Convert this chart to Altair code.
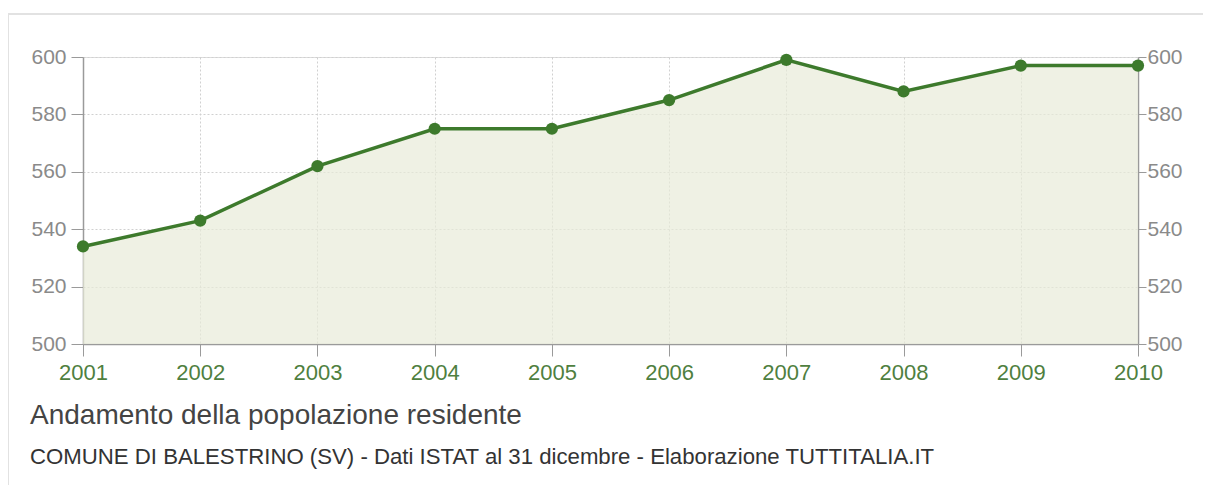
import altair as alt
import pandas as pd

years = [2001, 2002, 2003, 2004, 2005, 2006, 2007, 2008, 2009, 2010]
population = [534, 543, 562, 575, 575, 585, 599, 588, 597, 597]
y_ticks = [500, 520, 540, 560, 580, 600]

title_text = "Andamento della popolazione residente"
subtitle_text = "COMUNE DI BALESTRINO (SV) - Dati ISTAT al 31 dicembre - Elaborazione TUTTITALIA.IT"

df = pd.DataFrame({"anno": years, "popolazione": population})

FONT = "Liberation Sans"
GREEN = "#3d7a2c"

x_enc = alt.X(
    "anno:Q",
    scale=alt.Scale(domain=[2001, 2010], nice=False, zero=False),
    axis=alt.Axis(
        values=years, format="d", title=None,
        labelColor="#4f7f3f", labelFontSize=22, labelFont=FONT,
        labelPadding=6, tickSize=12, tickColor="#9a9a9a",
        domainColor="#9a9a9a", domainWidth=1.5,
        grid=True, gridColor="#d0d0d0", gridDash=[2, 2],
        labelFlush=False,
    ),
)
yscale = alt.Scale(domain=[500, 600], nice=False, zero=False)

base = alt.Chart(df)

area = base.mark_area(color="#e8ebd8", opacity=0.7, clip=True).encode(
    x=x_enc,
    y=alt.Y(
        "popolazione:Q", scale=yscale,
        axis=alt.Axis(
            orient="left", values=y_ticks, title=None,
            labelColor="#8a8a8a", labelFontSize=21, labelFont=FONT,
            labelPadding=5, tickSize=12, tickColor="#9a9a9a",
            domainColor="#9a9a9a", domainWidth=1.5,
            grid=True, gridColor="#d0d0d0", gridDash=[2, 2],
        ),
    ),
)
line = base.mark_line(color=GREEN, strokeWidth=3.5).encode(
    x=x_enc, y=alt.Y("popolazione:Q", scale=yscale)
)
points = base.mark_circle(color=GREEN, opacity=1, size=150).encode(
    x=x_enc, y=alt.Y("popolazione:Q", scale=yscale)
)
left_layer = alt.layer(area, line, points)

right_axis = base.mark_point(opacity=0).encode(
    x=x_enc,
    y=alt.Y(
        "popolazione:Q", scale=yscale,
        axis=alt.Axis(
            orient="right", values=y_ticks, title=None,
            labelColor="#8a8a8a", labelFontSize=21, labelFont=FONT,
            labelPadding=1, tickSize=8, tickColor="#9a9a9a",
            domainColor="#9a9a9a", domainWidth=1.5, grid=False,
        ),
    ),
)

one = pd.DataFrame({"f": [0]})

frame = alt.Chart(one).mark_rect(
    fill="transparent", stroke="#e2e2e2", strokeWidth=2
).encode(
    x=alt.value(-75), x2=alt.value(1200), y=alt.value(-43), y2=alt.value(600)
)

title_mark = alt.Chart(one).mark_text(
    text=title_text, align="left", baseline="alphabetic",
    font=FONT, fontSize=28, color="#444444"
).encode(x=alt.value(-53), y=alt.value(367))

subtitle_mark = alt.Chart(one).mark_text(
    text=subtitle_text, align="left", baseline="alphabetic",
    font=FONT, fontSize=22.2, color="#333333"
).encode(x=alt.value(-53), y=alt.value(407))

chart = alt.layer(frame, left_layer, right_axis, title_mark, subtitle_mark).resolve_scale(
    y="independent"
).properties(
    width=1055,
    height=287,
    autosize=alt.AutoSizeParams(type="none"),
    padding={"left": 75, "top": 49, "right": 65, "bottom": 141},
).configure_view(stroke="transparent").configure(background="white")

chart.save("out.html", embed_options={"renderer": "svg", "actions": False})
